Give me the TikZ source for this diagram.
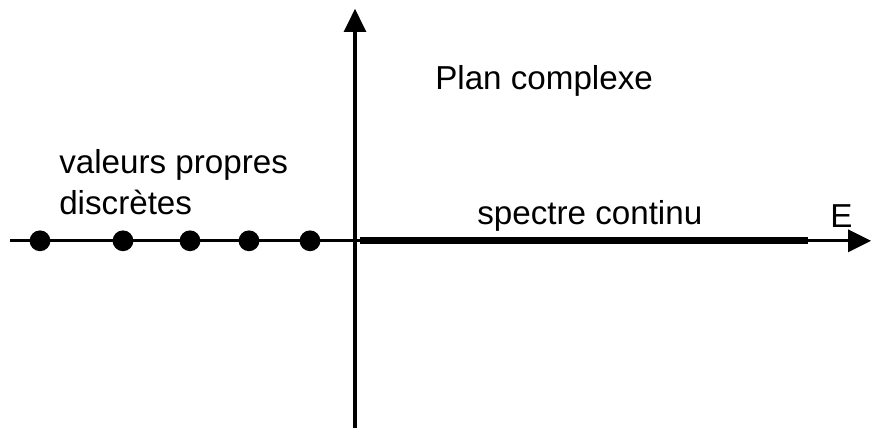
\documentclass[tikz,border=0pt]{standalone}
\usepackage{fontspec}
\setmainfont{Liberation Sans}
\usepackage{tikz}
\usetikzlibrary{arrows.meta,positioning}

\tikzset{
  axis/.style={line width=2.3pt,-{Triangle[length=0.58cm,width=0.55cm]}},
  spectrum/.style={line width=5.2pt},
  eigen/.style={circle,fill=black,inner sep=0pt,minimum size=0.52cm},
  label/.style={anchor=base west,inner sep=0pt,align=left,
    font=\fontsize{23.6pt}{29pt}\selectfont}
}

\begin{document}
\begin{tikzpicture}[x=1cm,y=1cm,>=Latex]
  \useasboundingbox (0,0) rectangle (21.8,10.7);
  % axes
  \coordinate (xl) at (0.25,4.68);
  \coordinate (xr) at (21.78,4.68);
  \coordinate (yb) at (8.875,0);
  \coordinate (yt) at (8.875,10.48);
  \draw[axis] (xl) -- (xr);
  \draw[axis] (yb) -- (yt);
  % continuous spectrum
  \coordinate (c0) at (9.0,4.68);
  \coordinate (c1) at (20.2,4.68);
  \draw[spectrum] (c0) -- (c1);
  % discrete eigenvalues
  \foreach \x [count=\i] in {1.0,3.075,4.75,6.225,7.75}
  {
    \node[eigen] (ev\i) at (\x,4.68) {};
  }
  \node[label] (plan) at (10.875,8.475) {Plan complexe};
  \node[label] (disc) at (1.475,5.35) {valeurs propres\\discrètes};
  \node[label] (cont) at (11.925,5.1) {spectre continu};
  \node[label] (E) at (20.75,5.025) {E};
\end{tikzpicture}
\end{document}
